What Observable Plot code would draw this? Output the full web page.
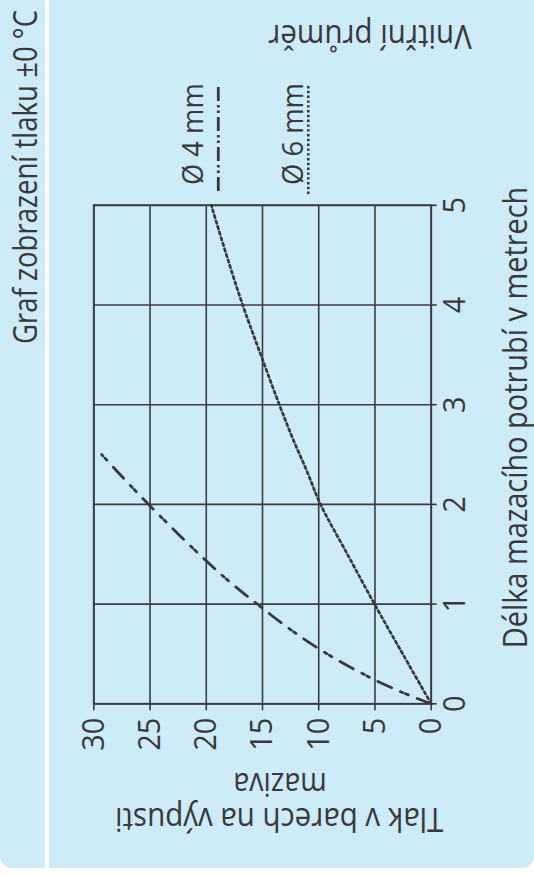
<!DOCTYPE html>
<html>
<head>
<meta charset="utf-8">
<script src="https://cdn.jsdelivr.net/npm/d3@7"></script>
<script src="https://cdn.jsdelivr.net/npm/@observablehq/plot@0.6"></script>
<style>
  html, body { margin: 0; padding: 0; background: #ffffff; overflow: hidden; width: 534px; height: 875px; }
  #wrap { position: absolute; left: 0; top: 0; width: 875px; height: 534px;
          transform-origin: 0 0; transform: translateY(875px) rotate(-90deg); }
  .bg1 { position: absolute; left: 7px; top: 0; width: 868px; height: 45px; background: #ceebf8; border-top-left-radius: 12px; }
  .bg2 { position: absolute; left: 7px; top: 49px; width: 868px; height: 485px; background: #ceebf8; border-bottom-left-radius: 12px; }
  #chart { position: absolute; left: 0; top: 0; }
</style>
</head>
<body>
<div id="wrap">
  <div class="bg1"></div>
  <div class="bg2"></div>
  <div id="chart"></div>
</div>
<script>
// ---- data ----
const lengthTicks = [0, 1, 2, 3, 4, 5];                 // Délka (m)
const pressureTicks = [0, 5, 10, 15, 20, 25, 30];       // Tlak (bar)
const len4 = [0, 0.12, 0.29, 0.5, 0.74, 1.0, 1.26, 1.55, 1.86, 2.16, 2.5];
const p4   = [0, 2.7, 5.9, 9.25, 12.45, 15.47, 18.3, 21.1, 23.9, 26.5, 29.3];
const len6 = [0, 0.48, 1, 1.5, 2, 2.32, 2.65, 3, 3.5, 4, 4.5, 5];
const p6   = [0, 2.43, 5.04, 7.45, 9.84, 11.0, 12.27, 13.5, 15.15, 16.76, 18.2, 19.55];
const seriesNames = ["Ø 4 mm", "Ø 6 mm"];
const titleText = "Graf zobrazení tlaku ±0 °C";
const xTitle = "Délka mazacího potrubí v metrech";
const yTitleLines = ["Tlak v barech na výpusti", "maziva"];
const legendTitle = "Vnitřní průměr";

// ---- styles ----
const ink = "#37393c";
const gridColor = "#3a3d40";
const font = "'Open Sans', 'Noto Sans', sans-serif";
const dash4 = "15 9.5 2.8 3 2.8 9.7";
const dash6 = "2.6 3.2";

const d4 = len4.map((l, i) => ({len: l, p: p4[i]}));
const d6 = len6.map((l, i) => ({len: l, p: p6[i]}));

const chart = Plot.plot({
  width: 875,
  height: 534,
  marginLeft: 170.7,
  marginRight: 205.8,
  marginTop: 93.3,
  marginBottom: 103.3,
  x: {domain: [0, 5]},
  y: {domain: [0, 30]},
  style: {background: "transparent", color: ink, fontFamily: font},
  marks: [
    Plot.ruleX(lengthTicks, {stroke: gridColor, strokeWidth: 1.6}),
    Plot.ruleY(pressureTicks, {stroke: gridColor, strokeWidth: 1.6}),
    Plot.frame({stroke: gridColor, strokeWidth: 1.9}),
    Plot.axisX(lengthTicks, {tickSize: 6, tickPadding: 6, fontSize: 31, label: null, strokeWidth: 1.6, tickFormat: d => String(d)}),
    Plot.axisY(pressureTicks, {tickSize: 6, tickPadding: 8, fontSize: 31, label: null, strokeWidth: 1.6, tickFormat: d => String(d)}),
    Plot.line(d4, {x: "len", y: "p", curve: "catmull-rom", stroke: ink, strokeWidth: 2.8, strokeDasharray: dash4}),
    Plot.line(d6, {x: "len", y: "p", curve: "catmull-rom", stroke: ink, strokeWidth: 2.7, strokeDasharray: dash6})
  ]
});
document.getElementById("chart").appendChild(chart);

// narrow the tick labels a little (the reference face is condensed)
d3.select(chart).selectAll('g[aria-label$="tick label"] text')
  .attr("textLength", function() { return this.textContent.length * 16.5; })
  .attr("lengthAdjust", "spacingAndGlyphs");

// ---- titles & legend overlay ----
const ov = d3.select("#wrap").append("svg")
  .attr("width", 875).attr("height", 534)
  .style("position", "absolute").style("left", 0).style("top", 0)
  .attr("font-family", font).attr("fill", ink);

function label(str, x, y, size, len, anchor, rot) {
  ov.append("text")
    .attr("transform", `translate(${x},${y})` + (rot ? ` rotate(${rot})` : ""))
    .attr("text-anchor", anchor)
    .attr("font-size", size)
    .attr("textLength", len)
    .attr("lengthAdjust", "spacingAndGlyphs")
    .text(str);
}

label(titleText, 531, 36.7, 32, 334, "start", 0);
label(xTitle, 226.7, 526.5, 33, 461.6, "start", 0);
label(yTitleLines[0], 66.7, 279.2, 33, 328.3, "middle", -90);
label(yTitleLines[1], 101.7, 280, 33, 93.3, "middle", -90);
label(legendTitle, 850, 370, 33, 203.4, "middle", -90);

label(seriesNames[0], 690, 203.3, 30, 101.7, "start", 0);
label(seriesNames[1], 690, 303.3, 30, 102, "start", 0);

ov.append("line").attr("x1", 684).attr("x2", 790).attr("y1", 218.3).attr("y2", 218.3)
  .attr("stroke", ink).attr("stroke-width", 2.8).attr("stroke-dasharray", "14 4 2.5 3 2.5 4");
ov.append("line").attr("x1", 681).attr("x2", 790).attr("y1", 308.3).attr("y2", 308.3)
  .attr("stroke", ink).attr("stroke-width", 2.6).attr("stroke-dasharray", "2.4 2.4");
</script>
</body>
</html>
